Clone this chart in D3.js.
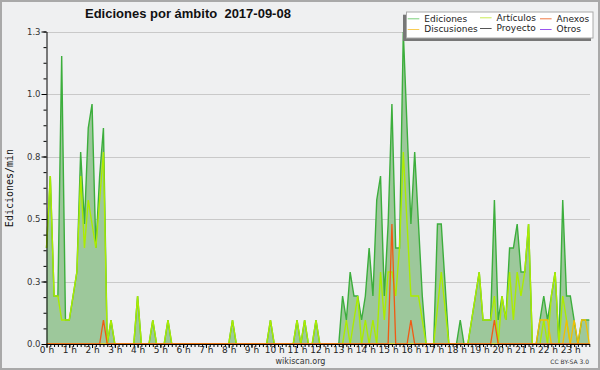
<!DOCTYPE html>
<html>
<head>
<meta charset="utf-8">
<script src="https://cdn.jsdelivr.net/npm/d3@7"></script>
<style>
  body { margin: 0; background: #eff0f1; }
  svg { display: block; }
</style>
</head>
<body>
<div id="chart"></div>
<script>
// chart size
const width = 600;
const height = 370;
const marginTop = 31.5;
const marginBottom = 26;
const marginLeft = 46.5;
const plotRight = 589.3;

// one value every 10 minutes, 0 h .. 23 h 50
const hourLabels = ["0 h","1 h","2 h","3 h","4 h","5 h","6 h","7 h","8 h","9 h","10 h","11 h",
  "12 h","13 h","14 h","15 h","16 h","17 h","18 h","19 h","20 h","21 h","22 h","23 h"];

const yTicks = [0, 0.25, 0.5, 0.75, 1.0, 1.25];

// Ediciones (total)
const ediciones = [
  0.384,0.672,0.192,0.192,1.152,0.096,0.096,0.192,0.288,0.768,
  0.48,0.864,0.96,0.384,0.672,0.864,0,0.096,0,0,
  0,0,0,0,0.192,0,0,0,0.096,0,
  0,0,0.096,0,0,0,0,0,0,0,
  0,0,0,0,0,0,0,0,0,0.096,
  0,0,0,0,0,0,0,0,0,0.096,
  0,0,0,0,0,0,0.096,0,0.096,0,
  0,0.096,0,0,0,0,0,0,0.192,0.096,
  0.288,0.192,0.192,0.096,0.192,0.384,0.192,0.576,0.672,0.192,
  0.48,0.96,0.384,0.384,1.248,0.864,0.48,0.768,0.48,0.192,
  0,0,0,0.48,0.48,0.24,0,0,0,0.096,
  0,0,0.096,0.192,0.288,0.096,0.096,0.096,0.576,0.096,
  0.192,0.096,0.384,0.384,0.48,0.288,0.288,0.48,0,0,
  0.096,0.192,0.096,0.192,0.288,0,0.576,0.192,0.192,0.096,
  0,0.096,0.096,0.096];

const articulos = [
  0.384,0.672,0.192,0.192,0.096,0.096,0.096,0.192,0.288,0.672,
  0.384,0.576,0.48,0.384,0.576,0.768,0,0.096,0,0,
  0,0,0,0,0.192,0,0,0,0.096,0,
  0,0,0.096,0,0,0,0,0,0,0,
  0,0,0,0,0,0,0,0,0,0.096,
  0,0,0,0,0,0,0,0,0,0.096,
  0,0,0,0,0,0,0.096,0,0.096,0,
  0,0.096,0,0,0,0,0,0,0,0.096,
  0,0.096,0.192,0,0.096,0,0.096,0,0.288,0.096,
  0.288,0.288,0.192,0.384,0.768,0.48,0.192,0.192,0.192,0.096,
  0,0,0,0.144,0.288,0.144,0,0,0,0,
  0,0,0.096,0.192,0.288,0.096,0.096,0.096,0.192,0,
  0.192,0.096,0.288,0.096,0.288,0.192,0.288,0.48,0,0,
  0,0.096,0,0.192,0.288,0,0.192,0.096,0,0,
  0,0,0,0];

const anexos = [
  0,0,0,0,0,0,0,0,0,0, 0,0,0,0,0,0.096,0,0,0,0,
  0,0,0,0,0,0,0,0,0,0, 0,0,0,0,0,0,0,0,0,0,
  0,0,0,0,0,0,0,0,0,0, 0,0,0,0,0,0,0,0,0,0,
  0,0,0,0,0,0,0,0,0,0, 0,0,0,0,0,0,0,0,0,0,
  0,0,0,0,0,0,0,0,0,0, 0,0.48,0,0,0,0,0.096,0,0,0,
  0,0,0,0,0,0,0,0,0,0, 0,0,0,0,0,0,0,0,0.096,0,
  0,0,0,0,0,0,0,0,0,0, 0,0,0,0,0,0,0,0,0,0,
  0,0,0,0];

const discusiones = [
  0,0,0,0,0,0,0,0,0,0, 0,0,0,0,0,0,0,0,0,0,
  0,0,0,0,0,0,0,0,0,0, 0,0,0,0,0,0,0,0,0,0,
  0,0,0,0,0,0,0,0,0,0, 0,0,0,0,0,0,0,0,0,0,
  0,0,0,0,0,0,0,0,0,0, 0,0,0,0,0,0,0,0,0,0,
  0,0,0,0,0,0,0,0,0,0, 0,0,0,0,0,0,0,0,0,0,
  0,0,0,0,0,0,0,0,0,0, 0,0,0,0,0,0,0,0,0,0,
  0,0,0,0,0,0,0,0,0,0, 0.096,0.096,0.096,0,0,0,0,0.096,0,0.096,
  0,0.096,0.096,0];

const legendNames = ["Ediciones", "Artículos", "Anexos", "Discusiones", "Proyecto", "Otros"];
const legendColors = ["#7bcf7b", "#c9ec55", "#f07a45", "#f8cc55", "#555555", "#9a55ee"];

// scales
const x = d3.scaleLinear().domain([0, ediciones.length - 1]).range([marginLeft, plotRight]);
const y = d3.scaleLinear().domain([0, 1.25]).range([height - marginBottom, marginTop]);

const svg = d3.select("#chart").append("svg")
  .attr("width", width)
  .attr("height", height)
  .attr("viewBox", [0, 0, width, height]);

svg.append("rect")
  .attr("x", 1).attr("y", 1)
  .attr("width", width - 2).attr("height", height - 2)
  .attr("fill", "#eff0f1")
  .attr("stroke", "#a9a9a9")
  .attr("stroke-width", 2);

// grid lines
svg.append("g")
  .selectAll("line")
  .data(yTicks.slice(1))
  .join("line")
    .attr("x1", marginLeft).attr("x2", 590)
    .attr("y1", d => Math.round(y(d)) + 0.5).attr("y2", d => Math.round(y(d)) + 0.5)
    .attr("stroke", "#c9c9c9");

// filled area under the total
const area = d3.area()
  .x((d, i) => x(i))
  .y0(y(0))
  .y1(d => y(d));

svg.append("path")
  .datum(ediciones)
  .attr("fill", "#9dc89b")
  .attr("d", area);

const line = d3.line()
  .x((d, i) => x(i))
  .y(d => y(d));

function drawLine(values, color, w) {
  svg.append("path")
    .datum(values)
    .attr("fill", "none")
    .attr("stroke", color)
    .attr("stroke-width", w)
    .attr("stroke-linejoin", "miter")
    .attr("d", line);
}

drawLine(ediciones, "#3cae3c", 1.4);
drawLine(articulos, "#abec00", 1.4);
drawLine(discusiones, "#f2c000", 1.3);
drawLine(anexos, "#f05a14", 1.3);

// y axis, major + minor ticks
svg.append("g")
  .attr("transform", `translate(${marginLeft},0)`)
  .call(d3.axisLeft(y).tickValues(d3.range(0, 1.26, 0.0625)).tickSize(3).tickFormat(""))
  .call(g => g.select(".domain").remove());

svg.append("g")
  .attr("transform", `translate(${marginLeft},0)`)
  .call(d3.axisLeft(y).tickValues(yTicks).tickFormat(d3.format(".1f")).tickSize(5).tickSizeOuter(0).tickPadding(1))
  .call(g => g.selectAll("text")
    .attr("font-family", "DejaVu Sans")
    .attr("font-size", 8.5)
    .attr("fill", "#333"));

// x axis, 10-minute ticks + hour labels
svg.append("g")
  .attr("transform", `translate(0,${y(0)})`)
  .call(d3.axisBottom(x).tickValues(d3.range(0, 144)).tickSize(3).tickFormat(""))
  .call(g => g.select(".domain").remove());

svg.append("g")
  .attr("transform", `translate(0,${y(0)})`)
  .call(d3.axisBottom(x).tickValues(d3.range(0, 144, 6)).tickFormat(d => hourLabels[d / 6]).tickSize(4).tickSizeOuter(0))
  .call(g => g.selectAll("text")
    .attr("y", 3)
    .attr("font-family", "DejaVu Sans")
    .attr("font-size", 9)
    .attr("fill", "#222"));

// title
svg.append("text")
  .attr("x", 85).attr("y", 18.3)
  .attr("font-family", "Liberation Sans")
  .attr("font-weight", "bold")
  .attr("font-size", 13)
  .attr("fill", "#111")
  .text("Ediciones por ámbito  2017-09-08")
  .style("white-space", "pre");

// y label
svg.append("text")
  .attr("transform", "translate(13.3,188) rotate(-90)")
  .attr("text-anchor", "middle")
  .attr("font-family", "DejaVu Sans Mono")
  .attr("font-size", 10)
  .attr("fill", "#111")
  .text("Ediciones/min");

// legend
const legend = svg.append("g");
legend.append("rect")
  .attr("x", 403).attr("y", 14.7).attr("width", 188).attr("height", 26.3)
  .attr("fill", "#777");
legend.append("rect")
  .attr("x", 406.5).attr("y", 12).attr("width", 186.5).attr("height", 26)
  .attr("fill", "#fff").attr("stroke", "#aaa");

const colX = [407.7, 480, 540];
const rowY = [18.3, 29];
legendNames.forEach((name, i) => {
  const col = i % 3, row = Math.floor(i / 3);
  const lx = colX[col];
  const ly = rowY[row] - (col === 1 ? 1 : 0);
  legend.append("line")
    .attr("x1", lx).attr("x2", lx + 11.6)
    .attr("y1", ly + 0.5).attr("y2", ly + 0.5)
    .attr("stroke", legendColors[i]);
  legend.append("text")
    .attr("x", lx + 16.6).attr("y", ly + 3.3)
    .attr("font-family", "DejaVu Sans")
    .attr("font-size", 9)
    .attr("fill", "#222")
    .text(name);
});

// footer
svg.append("text")
  .attr("x", 300.5).attr("y", 364)
  .attr("text-anchor", "middle")
  .attr("font-family", "DejaVu Sans")
  .attr("font-size", 8)
  .attr("fill", "#333")
  .text("wikiscan.org");

svg.append("text")
  .attr("x", 589).attr("y", 364)
  .attr("text-anchor", "end")
  .attr("font-family", "DejaVu Sans")
  .attr("font-size", 6)
  .attr("fill", "#333")
  .text("CC BY-SA 3.0");
</script>
</body>
</html>
